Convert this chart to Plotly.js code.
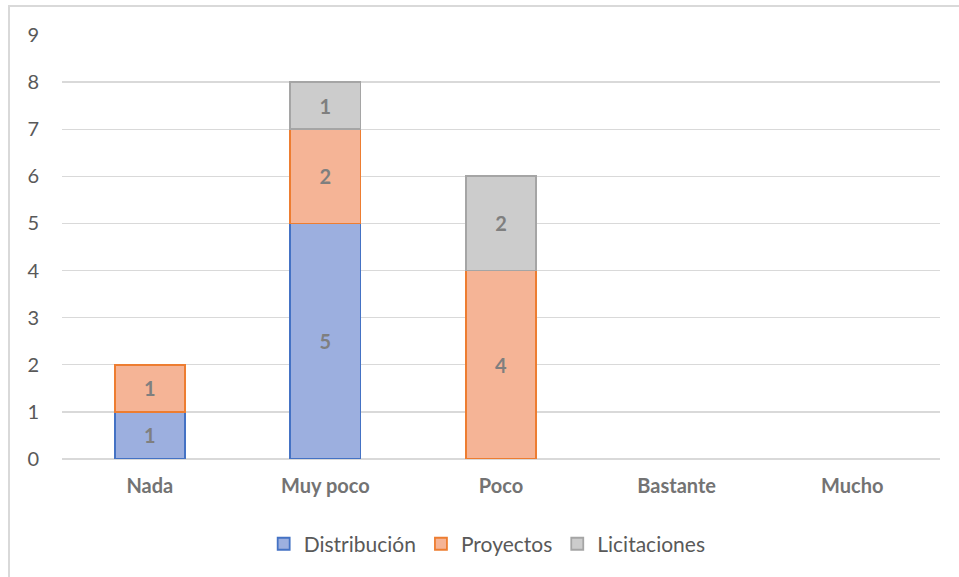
<!DOCTYPE html>
<html>
<head>
<meta charset="utf-8">
<script src="https://cdn.plot.ly/plotly-3.0.1.min.js"></script>
<style>
  html, body { margin: 0; padding: 0; background: #ffffff; }
  #wrap { position: relative; width: 959px; height: 577px; overflow: hidden; }
  #chart { position: absolute; left: 0; top: 0; width: 959px; height: 577px; }
  #frame { position: absolute; left: 8px; top: 5px; width: 980px; height: 600px;
           border-left: 2px solid #d9d9d9; border-top: 2px solid #d9d9d9; pointer-events: none; }
</style>
</head>
<body>
<div id="wrap">
  <div id="chart"></div>
  <div id="frame"></div>
</div>
<script>
// Respuestas por grado, apiladas por área
const categories = ["Nada", "Muy poco", "Poco", "Bastante", "Mucho"];
const distribucion = [1, 5, null, null, null];
const proyectos = [1, 2, 4, null, null];
const licitaciones = [null, 1, 2, null, null];
const yTicks = [0, 1, 2, 3, 4, 5, 6, 7, 8, 9];

const FONT = "Lato, 'Open Sans', sans-serif";
const labelFont = { family: FONT, size: 20, color: "#7f7f7f", weight: 700 };

function series(name, values, fill, edge) {
  return {
    type: "bar",
    name: name,
    x: categories,
    y: values,
    marker: { color: fill, line: { color: edge, width: 1.8 } },
    texttemplate: "%{y}",
    textposition: "inside",
    insidetextanchor: "middle",
    textangle: 0,
    constraintext: "none",
    textfont: labelFont,
    hoverinfo: "x+y+name"
  };
}

const data = [
  series("Distribución", distribucion, "#9cafdf", "#4472c4"),
  series("Proyectos", proyectos, "#f5b496", "#ed7d31"),
  series("Licitaciones", licitaciones, "#cccccc", "#a5a5a5")
];

const layout = {
  width: 959,
  height: 577,
  barmode: "stack",
  bargap: 0.6,
  paper_bgcolor: "#ffffff",
  plot_bgcolor: "#ffffff",
  margin: { l: 62, r: 19, t: 35, b: 118 },
  font: { family: FONT, color: "#595959", size: 20 },
  xaxis: {
    type: "category",
    showgrid: false,
    showline: false,
    zeroline: false,
    ticks: "",
    ticklabelstandoff: 13,
    tickfont: { family: FONT, size: 20, color: "#737373", weight: 700 }
  },
  yaxis: {
    range: [0, 9],
    tickvals: yTicks,
    ticktext: yTicks.map(String),
    showgrid: true,
    gridcolor: "#d9d9d9",
    gridwidth: 1.3,
    zeroline: true,
    zerolinecolor: "#d9d9d9",
    zerolinewidth: 1.5,
    showline: false,
    ticks: "",
    ticklabelstandoff: 22,
    tickfont: { family: FONT, size: 20, color: "#595959" }
  },
  showlegend: true,
  legend: {
    orientation: "h",
    xref: "container",
    yref: "container",
    x: 0.508,
    xanchor: "center",
    y: 0.057,
    yanchor: "middle",
    font: { family: FONT, size: 21, color: "#595959" },
    traceorder: "normal",
    itemwidth: 30
  }
};

Plotly.newPlot("chart", data, layout, { displayModeBar: false, staticPlot: true });
</script>
</body>
</html>
